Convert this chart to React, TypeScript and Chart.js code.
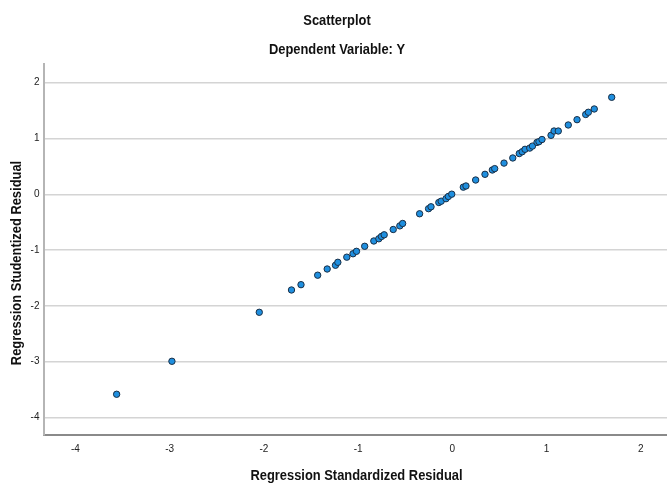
import React, { useEffect, useRef } from "react";
import { Chart, registerables } from "chart.js";

Chart.register(...registerables);

const chartTitle = "Scatterplot";
const chartSubtitle = "Dependent Variable: Y";
const xAxisTitle = "Regression Standardized Residual";
const yAxisTitle = "Regression Studentized Residual";

const xTicks = [-4, -3, -2, -1, 0, 1, 2];
const yTicks = [-4, -3, -2, -1, 0, 1, 2];

const standardizedResidual = [
  -3.563, -2.976, -2.049, -1.707, -1.606, -1.429, -1.328, -1.24, -1.215, -1.12,
  -1.054, -1.017, -0.93, -0.833, -0.78, -0.752, -0.723, -0.627, -0.557, -0.527,
  -0.347, -0.252, -0.226, -0.143, -0.118, -0.067, -0.042, -0.006, 0.117, 0.145,
  0.248, 0.347, 0.425, 0.45, 0.549, 0.642, 0.711, 0.742, 0.772, 0.822,
  0.851, 0.899, 0.92, 0.952, 1.048, 1.08, 1.125, 1.231, 1.324, 1.416,
  1.444, 1.507, 1.692,
];

const studentizedResidual = [
  -3.584, -2.993, -2.115, -1.715, -1.62, -1.45, -1.339, -1.272, -1.219, -1.127,
  -1.066, -1.022, -0.932, -0.837, -0.797, -0.756, -0.726, -0.631, -0.566, -0.523,
  -0.349, -0.258, -0.224, -0.147, -0.124, -0.079, -0.039, 0.002, 0.128, 0.149,
  0.256, 0.358, 0.435, 0.46, 0.559, 0.651, 0.73, 0.763, 0.806, 0.828,
  0.864, 0.93, 0.943, 0.982, 1.057, 1.134, 1.134, 1.242, 1.337, 1.43,
  1.47, 1.529, 1.738,
];

const FONT = "'Liberation Sans', Arial, sans-serif";

function drawNarrowText(ctx: CanvasRenderingContext2D, text: string, x: number, y: number, rot: number) {
  ctx.save();
  ctx.translate(x, y);
  ctx.rotate(rot);
  ctx.scale(0.86, 1);
  ctx.font = `bold 15px ${FONT}`;
  ctx.fillStyle = "#111";
  ctx.textAlign = "center";
  ctx.textBaseline = "middle";
  ctx.fillText(text, 0, 0);
  ctx.restore();
}

const titlesPlugin = {
  id: "titlesPlugin",
  afterDraw(chart: any) {
    const ctx = chart.ctx as CanvasRenderingContext2D;
    const area = chart.chartArea;
    drawNarrowText(ctx, chartTitle, 337, 20.5, 0);
    drawNarrowText(ctx, chartSubtitle, 337, 49.5, 0);
    drawNarrowText(ctx, xAxisTitle, (area.left + area.right) / 2 + 1, 475.5, 0);
    drawNarrowText(ctx, yAxisTitle, 17, 263, -Math.PI / 2);
  },
};

export default function App() {
  const ref = useRef<HTMLCanvasElement | null>(null);

  useEffect(() => {
    if (!ref.current) return;
    const points = standardizedResidual.map((x, i) => ({ x, y: studentizedResidual[i] }));
    const chart = new Chart(ref.current, {
      type: "scatter",
      data: {
        datasets: [
          {
            data: points,
            backgroundColor: "#1f8fdf",
            borderColor: "#1b2f45",
            borderWidth: 1,
            pointRadius: 3.2,
          },
        ],
      },
      options: {
        responsive: false,
        animation: false,
        layout: { padding: { top: 64, left: 0, right: 0, bottom: 0 }, autoPadding: false },
        plugins: {
          legend: { display: false },
          tooltip: { enabled: false },
          title: { display: false },
        },
        scales: {
          x: {
            type: "linear",
            min: -4.334,
            max: 2.279,
            afterBuildTicks: (s: any) => {
              s.ticks = xTicks.map((v) => ({ value: v }));
            },
            afterFit: (s: any) => {
              s.height = 48;
              s.paddingLeft = 0;
              s.paddingRight = 0;
            },
            grid: { display: false, drawTicks: false },
            border: { display: true, color: "#8a8a8a", width: 2 },
            ticks: {
              color: "#222",
              font: { family: FONT, size: 10 },
              padding: 8,
              maxRotation: 0,
              autoSkip: false,
            },
          },
          y: {
            type: "linear",
            min: -4.314,
            max: 2.335,
            afterBuildTicks: (s: any) => {
              s.ticks = yTicks.map((v) => ({ value: v }));
            },
            afterFit: (s: any) => {
              s.width = 44;
              s.paddingTop = 0;
              s.paddingBottom = 0;
            },
            grid: { display: true, drawTicks: false, color: "#d4d4d4", lineWidth: 1.5 },
            border: { display: true, color: "#b5b5b5", width: 2 },
            ticks: {
              color: "#222",
              font: { family: FONT, size: 10 },
              padding: 4.5,
              autoSkip: false,
            },
          },
        },
      },
      plugins: [titlesPlugin],
    });
    return () => chart.destroy();
  }, []);

  return (
    <div style={{ position: "absolute", left: 0, top: 0, width: 667, height: 483, background: "#fff" }}>
      <canvas ref={ref} width={667} height={483} style={{ display: "block" }} />
    </div>
  );
}
